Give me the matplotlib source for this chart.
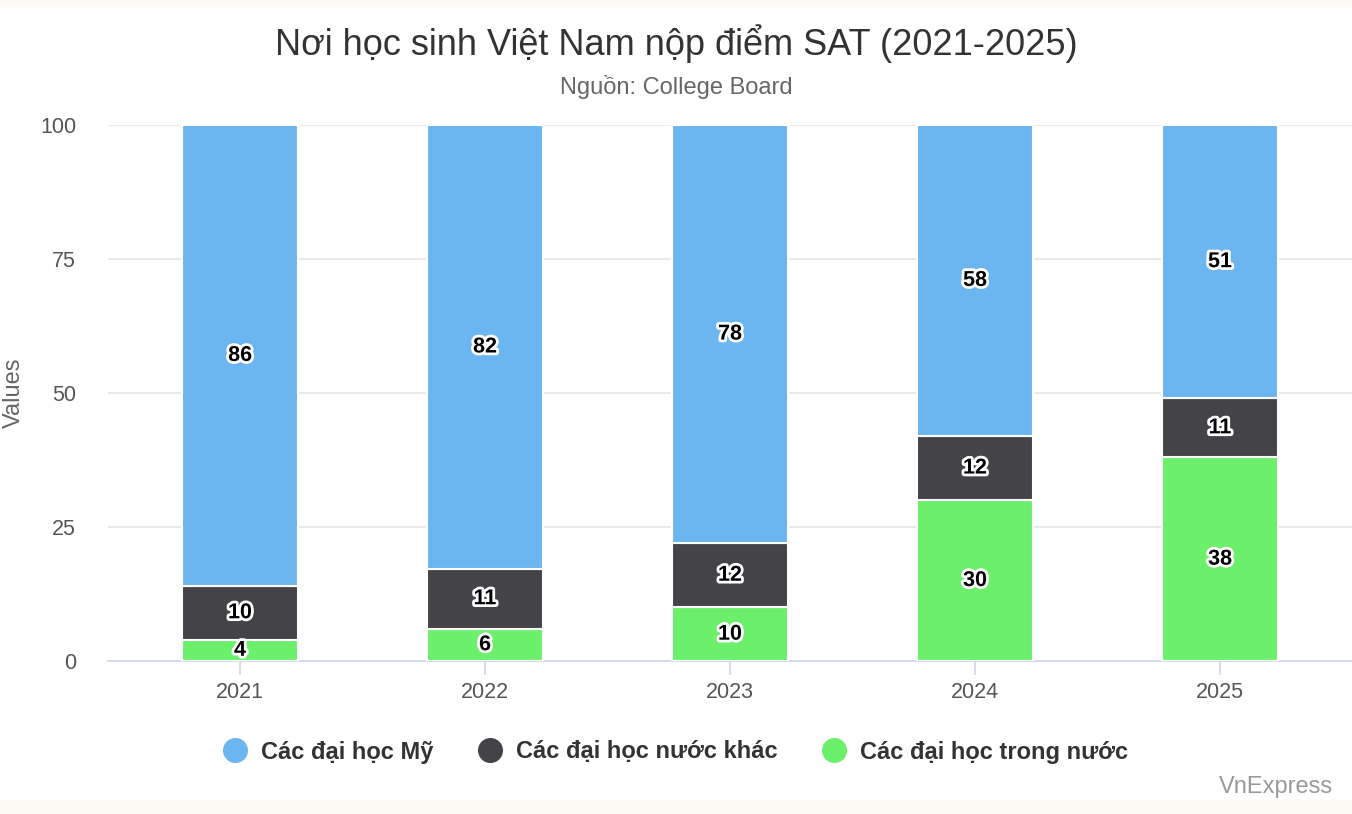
import matplotlib
matplotlib.use("Agg")
import matplotlib.pyplot as plt
import matplotlib.patheffects as pe
from matplotlib.lines import Line2D
import numpy as np

plt.rcParams['font.family'] = ['Liberation Sans', 'DejaVu Sans']

years = ["2021", "2022", "2023", "2024", "2025"]
series_names = ["Các đại học Mỹ", "Các đại học nước khác", "Các đại học trong nước"]
us = [86, 82, 78, 58, 51]
other = [10, 11, 12, 12, 11]
domestic = [4, 6, 10, 30, 38]
colors = ["#6bb6f0", "#434348", "#6cf06c"]

W, H = 1352, 814
fig = plt.figure(figsize=(W / 100, H / 100), dpi=100)
fig.patch.set_facecolor("white")
fig.patches.append(plt.Rectangle((0, 1 - 6 / H), 1, 6 / H, transform=fig.transFigure,
                                 color="#fdfaf4", zorder=0))
fig.patches.append(plt.Rectangle((0, 0), 1, 14 / H, transform=fig.transFigure,
                                 color="#fdfaf4", zorder=0))

left, right, top, bottom = 108, 1352, 125, 661
ax = fig.add_axes([left / W, 1 - bottom / H, (right - left) / W, (bottom - top) / H])

x = np.arange(len(years))
totals = np.array(us) + np.array(other) + np.array(domestic)
stack_order = [(domestic, colors[2]), (other, colors[1]), (us, colors[0])]
base = np.zeros(len(years))
width = 0.473
for vals, col in stack_order:
    v = np.array(vals, dtype=float)
    pct = v / totals * 100
    ax.bar(x, pct, width, bottom=base, color=col, edgecolor="white", linewidth=1.5, zorder=3)
    for xi, b, p, raw in zip(x, base, pct, vals):
        ax.text(xi, b + p / 2, str(raw), ha="center", va="center", fontsize=15.5,
                fontweight="bold", color="black", zorder=5,
                path_effects=[pe.withStroke(linewidth=4, foreground="white")])
    base = base + pct

pad_units = 132 / 245
ax.set_xlim(-pad_units, len(years) - 1 + pad_units)
ax.set_ylim(0, 100)
ax.set_yticks([0, 25, 50, 75, 100])
ax.set_xticks(x)
ax.set_xticklabels(years)
ax.grid(axis="y", color="#e6e6e6", linewidth=1.2, zorder=0)
ax.set_axisbelow(True)
for s in ["top", "right", "left"]:
    ax.spines[s].set_visible(False)
ax.spines["bottom"].set_color("#ccd6eb")
ax.spines["bottom"].set_linewidth(1.2)
ax.tick_params(axis="x", colors="#ccd6eb", length=10, width=1.2, labelcolor="#555555",
               labelsize=15.5, pad=5)
ax.tick_params(axis="y", length=0, labelcolor="#555555", labelsize=15.5, pad=23)
ylab = ax.set_ylabel("Values", fontsize=17, color="#666666")
ylab.set_verticalalignment("center")
ax.yaxis.set_label_coords(-(108 - 14) / (right - left), 0.5)

fig.text(0.5, 1 - 44 / H, "Nơi học sinh Việt Nam nộp điểm SAT (2021-2025)", ha="center",
         va="center", fontsize=26, color="#333333")
fig.text(0.5, 1 - 87 / H, "Nguồn: College Board", ha="center", va="center",
         fontsize=17, color="#666666")

handles = [Line2D([0], [0], marker="o", linestyle="", markersize=17,
                  markerfacecolor=c, markeredgecolor=c) for c in colors]
leg = fig.legend(handles, series_names, loc="center", bbox_to_anchor=(676 / W, 1 - 752 / H),
                 ncol=3, frameon=False, prop={"weight": "bold", "size": 17},
                 handletextpad=0.6, columnspacing=1.9, handlelength=1.0)
for t in leg.get_texts():
    t.set_color("#333333")

fig.text(1 - 19 / W, 1 - 787 / H, "VnExpress", ha="right", va="center", fontsize=17,
         color="#999999")

fig.savefig("out.png", dpi=100, facecolor=fig.get_facecolor())
